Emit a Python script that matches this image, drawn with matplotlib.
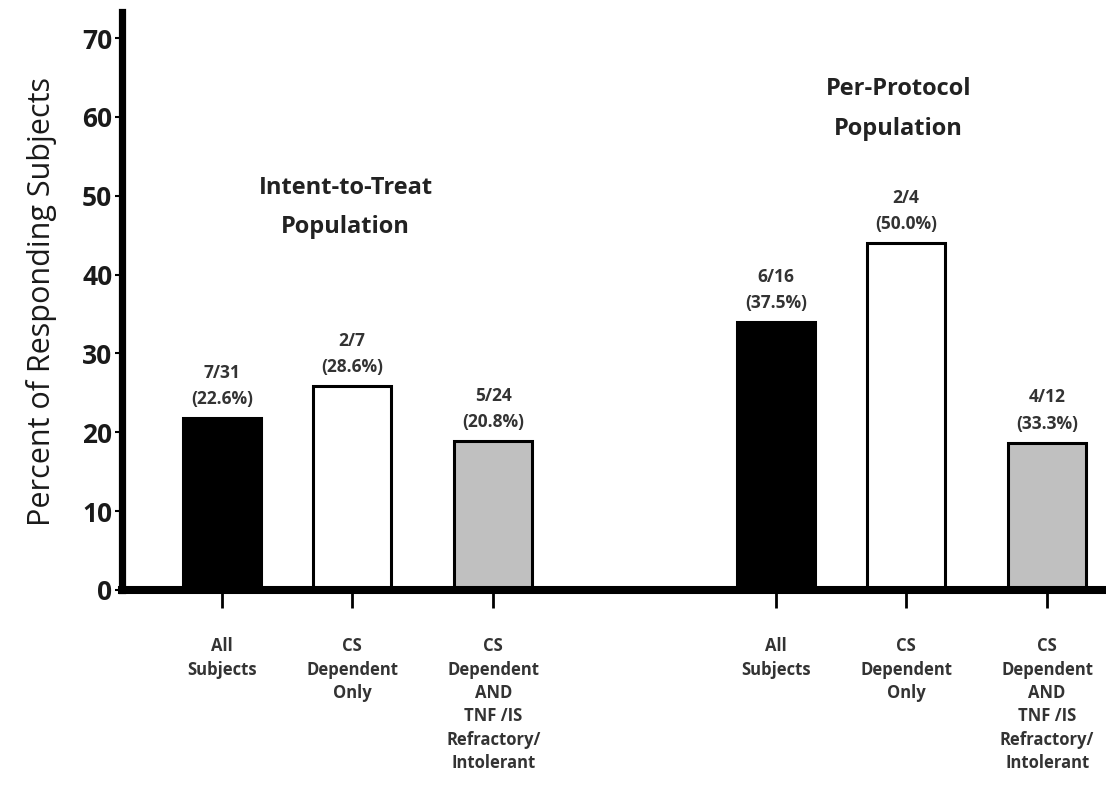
import matplotlib
matplotlib.use("Agg")
import matplotlib.pyplot as plt

categories = ["All\nSubjects", "CS\nDependent\nOnly",
              "CS\nDependent\nAND\nTNF /IS\nRefractory/\nIntolerant",
              "All\nSubjects", "CS\nDependent\nOnly",
              "CS\nDependent\nAND\nTNF /IS\nRefractory/\nIntolerant"]
values = [21.8, 25.9, 18.9, 34.0, 44.0, 18.7]
counts = ["7/31", "2/7", "5/24", "6/16", "2/4", "4/12"]
percents = ["(22.6%)", "(28.6%)", "(20.8%)", "(37.5%)", "(50.0%)", "(33.3%)"]
group_titles = ["Intent-to-Treat\nPopulation", "Per-Protocol\nPopulation"]
y_ticks = [0, 10, 20, 30, 40, 50, 60, 70]

positions = [0, 1, 2.085, 4.26, 5.26, 6.345]
colors = ["black", "white", "#c0c0c0", "black", "white", "#c0c0c0"]

plt.rcParams['font.family'] = ['Open Sans', 'DejaVu Sans']

fig = plt.figure(figsize=(11.06, 7.87), dpi=100)
ax = fig.add_axes([122/1106, (787-590)/787, (1105-122)/1106, (590-12)/787])

ax.bar(positions, values, width=0.6, color=colors, edgecolor="black",
       linewidth=2.2, zorder=2)

for x, v, c, p in zip(positions, values, counts, percents):
    ax.annotate(c + "\n" + p, (x, v), xytext=(0, 7), textcoords="offset points",
                ha="center", va="bottom", fontsize=12.5, fontweight="bold",
                color="#333333", linespacing=1.6)

ax.text(0.95, 48.5, group_titles[0], ha="center", va="center", fontsize=17,
        fontweight="bold", color="#222222", linespacing=1.85)
ax.text(5.2, 61.0, group_titles[1], ha="center", va="center", fontsize=17,
        fontweight="bold", color="#222222", linespacing=1.9)

ax.set_xlim(-0.77, 6.79)
ax.set_ylim(0, 73.3)
ax.set_yticks(y_ticks)
ax.set_yticklabels([str(t) for t in y_ticks], fontsize=19, fontweight="bold",
                   color="#1a1a1a")
ax.set_xticks(positions)
ax.set_xticklabels(categories, fontsize=12, fontweight="bold",
                   color="#333333", linespacing=1.38, va="top")

ax.tick_params(axis="y", direction="out", length=5, width=1.5, pad=2)
ax.tick_params(axis="x", direction="out", length=13, width=2, pad=21)

for s in ["top", "right"]:
    ax.spines[s].set_visible(False)
ax.spines["left"].set_linewidth(5.2)
ax.spines["bottom"].set_linewidth(5.8)
ax.spines["bottom"].set_zorder(3)

ax.set_ylabel("Percent of Responding Subjects", fontsize=22, color="#1a1a1a",
              labelpad=18)

fig.savefig("out.png", dpi=100)
